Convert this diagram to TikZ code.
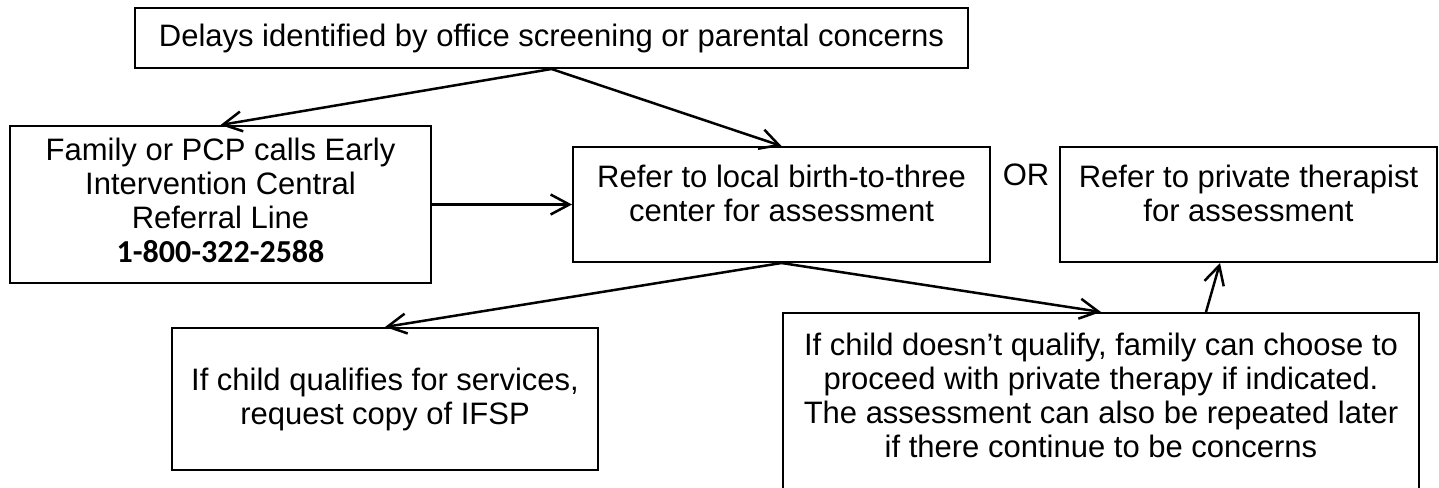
\documentclass[tikz,border=0pt]{standalone}
\usepackage{fontspec}
\setmainfont{Liberation Sans}
\newfontfamily\calibri{Carlito}
\usetikzlibrary{arrows.meta}
\begin{document}
\begin{tikzpicture}[x=0.4pt,y=-0.4pt,
  box/.style={draw, line width=0.8pt, inner sep=0pt, rectangle},
  arr/.style={line width=1pt, -{Straight Barb[length=7.5pt,width=8pt]}},
  font=\fontsize{12.4}{13.6}\selectfont]
\clip (0,0) rectangle (1439,487);
\node[box, minimum width=333.2pt, minimum height=24pt] (top) at (551.5,38)
  {Delays identified by office screening or parental concerns};
\node[box] (fam) at (220.5,204.5)
  {\parbox[c][62.8pt][t]{168.4pt}{\centering\rule{0pt}{13.6pt}Family or PCP calls Early\\Intervention Central\\Referral Line\\{\calibri\bfseries\fontsize{12.8}{13.6}\selectfont 1-800-322-2588}}};
\node[box] (ref) at (781.5,204.5)
  {\parbox[c][46pt][t]{166.8pt}{\centering\rule{0pt}{16pt}Refer to local birth-to-three\\center for assessment}};
\node (or) at (1026,175) {OR};
\node[box] (priv) at (1248.5,204.5)
  {\parbox[c][46pt][t]{150.8pt}{\centering\rule{0pt}{16pt}Refer to private therapist\\for assessment}};
\node[box, minimum width=170.4pt, minimum height=56.8pt, align=center] (ifsp) at (385,399)
  {If child qualifies for services,\\request copy of IFSP};
\node[box] (br) at (1101,416.5)
  {\parbox[c][82.8pt][t]{254.4pt}{\centering\rule{0pt}{16.8pt}If child doesn’t qualify, family can choose to\\proceed with private therapy if indicated.\\The assessment can also be repeated later\\if there continue to be concerns}};
\draw[arr] (top.south) -- (fam.north);
\draw[arr] (top.south) -- (ref.north);
\draw[arr] (fam.east) -- (ref.west);
\draw[arr] (ref.south) -- (ifsp.north);
\draw[arr] (ref.south) -- (br.north);
\draw[arr] ([xshift=42pt]br.north) -- ([xshift=-11.4pt]priv.south);
\end{tikzpicture}
\end{document}
